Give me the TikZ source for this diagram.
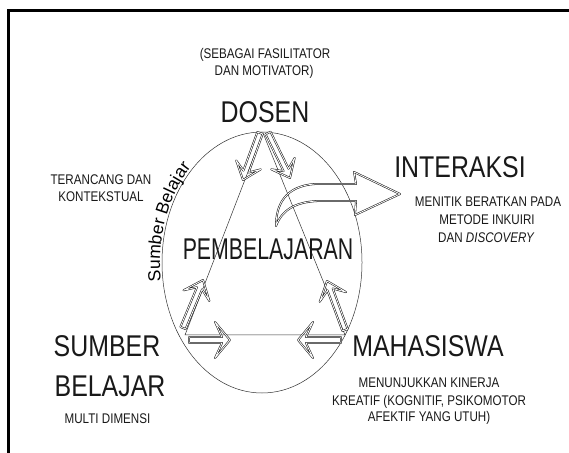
\documentclass[tikz,border=0pt]{standalone}
\usepackage{fontspec}
\setmainfont{Liberation Sans}
\newfontfamily\cf{Liberation Sans}[FakeStretch=0.83]
\newfontfamily\pf{Liberation Sans}[FakeStretch=0.71]
\usetikzlibrary{calc,decorations.text,shapes.geometric}
\tikzset{
  big/.style={font=\cf\fontsize{30}{30}\selectfont, anchor=base, inner sep=0pt, text=black!90},
  small/.style={font=\cf\fontsize{14}{14}\selectfont, anchor=base, inner sep=0pt, text=black!90},
  thinline/.style={line width=0.5pt, draw=black!80},
  hollow/.style={draw=black!90, line width=0.55pt, double distance=0.8pt, line join=round},
}
% #1 start, #2 end, #3 shaft half width, #4 head half width, #5 head length, #6 join distance
\newcommand\hollowarr[6]{%
  \coordinate (hA) at (#1);
  \coordinate (hB) at (#2);
  \coordinate (hH) at ($(hB)!#5!(hA)$);
  \coordinate (hJ) at ($(hB)!#6!(hA)$);
  \draw[hollow] ($(hA)!#3!90:(hB)$) -- ($(hJ)!#3!90:(hB)$) -- ($(hH)!#4!90:(hB)$) -- (hB)
     -- ($(hH)!#4!-90:(hB)$) -- ($(hJ)!#3!-90:(hB)$) -- ($(hA)!#3!-90:(hB)$) -- cycle;
}
\begin{document}
\begin{tikzpicture}[x=1pt,y=1pt]
\useasboundingbox (0,0) rectangle (569,452);
\clip (0,0) rectangle (569,452);
\fill[white] (0,0) rectangle (569,452);
% frame
\draw[line width=2.6pt] (8.3,-10) -- (8.3,441.3) -- (600,441.3);

% ellipse and triangle
\node[ellipse, thinline, draw, minimum width=200pt, minimum height=261pt, inner sep=0pt] (ell) at (262,189.5) {};
\coordinate (apex) at (263,319);
\coordinate (bl) at (185,117);
\coordinate (br) at (345,117);
\draw[thinline] (apex) -- (bl) -- (br) -- cycle;

% hollow arrows
\coordinate (a1s) at (260,319); \coordinate (a1e) at (243,272);
\coordinate (a2s) at (268,319); \coordinate (a2e) at (290,274);
\coordinate (a3s) at (183,124); \coordinate (a3e) at (203,172);
\coordinate (a4s) at (345,122); \coordinate (a4e) at (327,171);
\coordinate (a5s) at (189,112); \coordinate (a5e) at (230,112);
\coordinate (a6s) at (341,112); \coordinate (a6e) at (298,112);
\hollowarr{a1s}{a1e}{2.8pt}{13pt}{16pt}{9pt}
\hollowarr{a2s}{a2e}{2.8pt}{13pt}{16pt}{9pt}
\hollowarr{a3s}{a3e}{2.8pt}{14pt}{17pt}{9pt}
\hollowarr{a4s}{a4e}{2.8pt}{14pt}{17pt}{9pt}
\hollowarr{a5s}{a5e}{3pt}{18pt}{15pt}{8pt}
\hollowarr{a6s}{a6e}{3pt}{18pt}{15pt}{8pt}

% curved arrow to INTERAKSI
\coordinate (ctail) at (276,226);
\coordinate (ctip) at (400,258);
\draw[hollow] (ctail) .. controls (276,247) and (285,266) .. (315,268) -- (356,268) -- (354,280) -- (ctip)
   -- (355,237) -- (356,251) -- (318,251) .. controls (295,250) and (282,242) .. (ctail) -- cycle;

% Sumber Belajar along the ellipse
\path[decorate, decoration={text along path, text={|\fontsize{17.5}{17.5}\selectfont|Sumber Belajar}, text align=center}]
  (ell.center) ++(202:102 and 132.5) arc[start angle=202, end angle=118, x radius=102, y radius=132.5];

% texts
\node[small] (sb1) at (265,393) {(SEBAGAI FASILITATOR};
\node[small] (sb2) at (264,376) {DAN MOTIVATOR)};
\node[big] (dosen) at (265,329.5) {DOSEN};
\node[small] (tk1) at (101,267) {TERANCANG DAN};
\node[small] (tk2) at (101,250.3) {KONTEKSTUAL};
\node[big] (inter) at (460,274) {INTERAKSI};
\node[small] (mn1) at (488,245.3) {MENITIK BERATKAN PADA};
\node[small] (mn2) at (487,227) {METODE INKUIRI};
\node[small] (mn3) at (486,209.3) {DAN \itshape DISCOVERY};
\node[big, font=\pf\fontsize{30}{30}\selectfont] (pemb) at (268,192) {PEMBELAJARAN};
\node[big] (sumber) at (107,95.3) {SUMBER};
\node[big] (belajar) at (110,55.3) {BELAJAR};
\node[small] (multi) at (107.5,28.7) {MULTI DIMENSI};
\node[big] (mhs) at (428,95.3) {MAHASISWA};
\node[small] (mk1) at (429,64.7) {MENUNJUKKAN KINERJA};
\node[small] (mk2) at (429,46.5) {KREATIF (KOGNITIF, PSIKOMOTOR};
\node[small] (mk3) at (429,30.3) {AFEKTIF YANG UTUH)};
\end{tikzpicture}
\end{document}
